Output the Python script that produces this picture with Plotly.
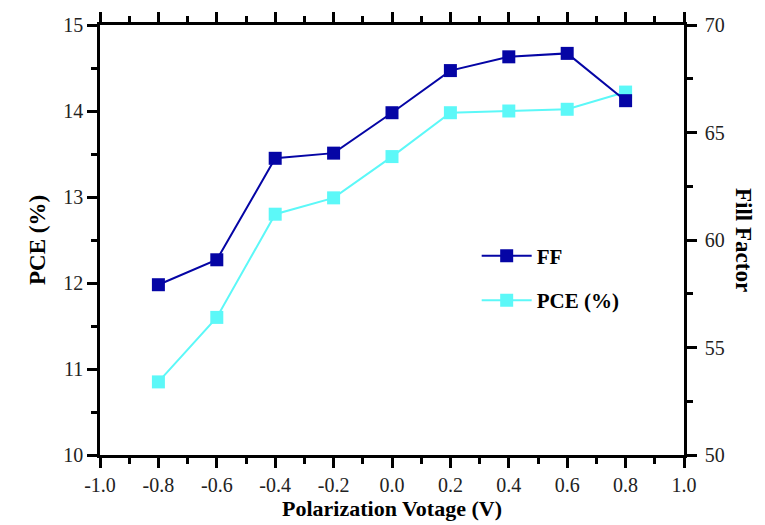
import plotly.graph_objects as go

voltage = [-0.8, -0.6, -0.4, -0.2, 0.0, 0.2, 0.4, 0.6, 0.8]
ff = [57.92, 59.08, 63.8, 64.04, 65.92, 67.88, 68.52, 68.68, 66.48]
pce = [10.85, 11.6, 12.8, 12.99, 13.47, 13.98, 14.0, 14.02, 14.22]
x_ticks = [-1.0, -0.8, -0.6, -0.4, -0.2, 0.0, 0.2, 0.4, 0.6, 0.8, 1.0]
x_labels = ["-1.0", "-0.8", "-0.6", "-0.4", "-0.2", "0.0", "0.2", "0.4", "0.6", "0.8", "1.0"]

FONT = "Liberation Serif"
navy = "#0505a5"
cyan = "#5cf8f8"
INK = "black"

fig = go.Figure()
fig.add_trace(go.Scatter(x=voltage, y=pce, name="PCE (%)", mode="lines+markers",
                         line=dict(color=cyan, width=2), marker=dict(symbol="square", size=13, color=cyan),
                         legendgroup="b", legendrank=2))
fig.add_trace(go.Scatter(x=voltage, y=ff, name="FF", mode="lines+markers", yaxis="y2",
                         line=dict(color=navy, width=2), marker=dict(symbol="square", size=13, color=navy),
                         legendgroup="a", legendrank=1))

tickfont = dict(family=FONT, size=20, color="#222")
common = dict(showgrid=False, zeroline=False, tickcolor=INK, tickwidth=2.5)
fig.update_layout(
    width=765, height=525,
    margin=dict(l=100, r=81, t=25, b=65),
    plot_bgcolor="white", paper_bgcolor="white",
    showlegend=True,
    legend=dict(x=0.645, y=0.51, xanchor="left", yanchor="top", bgcolor="rgba(0,0,0,0)",
                font=dict(family=FONT, size=21, color=INK, weight="bold"),
                tracegroupgap=14, itemwidth=50),
    xaxis=dict(range=[-1, 1], tickvals=x_ticks, ticktext=x_labels, showline=True, linecolor=INK,
               linewidth=2.5, ticks="outside", ticklen=10, tickfont=tickfont, mirror="ticks", **common,
               minor=dict(tickvals=[-0.9, -0.7, -0.5, -0.3, -0.1, 0.1, 0.3, 0.5, 0.7, 0.9],
                          ticks="outside", ticklen=6, tickwidth=2.5, tickcolor=INK),
               title=dict(text="<b>Polarization Votage (V)</b>", font=dict(family=FONT, size=22, color=INK), standoff=2)),
    yaxis=dict(range=[10, 15], dtick=1, showline=True, linecolor=INK, linewidth=2.5, ticks="outside",
               ticklen=10, tickfont=tickfont, **common,
               minor=dict(tickvals=[10.5, 11.5, 12.5, 13.5, 14.5], ticks="outside", ticklen=6, tickwidth=2.5, tickcolor=INK),
               title=dict(text="<b>PCE (%)</b>", font=dict(family=FONT, size=23, color=INK), standoff=12)),
    yaxis2=dict(range=[50, 70], dtick=5, overlaying="y", side="right", showline=True, linecolor=INK,
                linewidth=2.5, ticks="outside", ticklen=10, tickfont=tickfont, ticklabelstandoff=4, **common,
                minor=dict(tickvals=[52.5, 57.5, 62.5, 67.5], ticks="outside", ticklen=6, tickwidth=2.5, tickcolor=INK)),
    annotations=[dict(text="<b>Fill Factor</b>", textangle=90, xref="paper", yref="paper",
                      x=1.0, xshift=60, y=0.5, xanchor="center", yanchor="middle", showarrow=False,
                      font=dict(family=FONT, size=23, color=INK))],
)

fig.write_html("out.html")
